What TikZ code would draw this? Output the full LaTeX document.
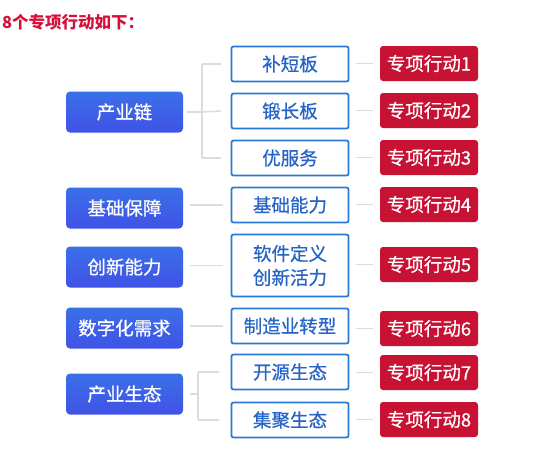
\documentclass[tikz,border=0pt]{standalone}
\usepackage{fontspec}
\setmainfont{Noto Sans CJK SC}
\newfontfamily\medcjk{Noto Sans CJK SC}[FakeBold=0.7]
\definecolor{bluetop}{RGB}{58,112,232}
\definecolor{bluebot}{RGB}{64,82,230}
\definecolor{midblue}{RGB}{40,122,216}
\definecolor{midtext}{RGB}{38,100,200}
\definecolor{actred}{RGB}{200,18,52}
\definecolor{titlered}{RGB}{214,16,58}
\definecolor{conngray}{RGB}{220,220,220}
\tikzset{
  catbox/.style={rounded corners=4pt, top color=bluetop, bottom color=bluebot, draw=none,
    minimum width=117pt, minimum height=41pt, text=white, font=\medcjk\fontsize{18.5}{20}\selectfont},
  midbox/.style={rounded corners=2pt, draw=midblue, line width=1.8pt, fill=white,
    minimum width=117pt, minimum height=35pt, text=midtext, align=center,
    font=\medcjk\fontsize{18.5}{24}\selectfont},
  actbox/.style={rounded corners=3pt, fill=actred, draw=none,
    minimum width=98pt, minimum height=35pt, text=white, font=\medcjk\fontsize{18.5}{20}\selectfont},
  conn/.style={draw=conngray, line width=1.5pt}
}
\begin{document}
\begin{tikzpicture}[x=1pt,y=-1pt]
\useasboundingbox[fill=white] (0,0) rectangle (542,450);
\node[anchor=west, inner sep=0pt, text=titlered, font=\fontsize{16.5}{18}\selectfont\bfseries] (title) at (2,22) {8个专项行动如下：};
% categories
\node[catbox] (c1) at (124.5,112) {产业链};
\node[catbox] (c2) at (124.5,208) {基础保障};
\node[catbox] (c3) at (124.5,267) {创新能力};
\node[catbox] (c4) at (124.5,328) {数字化需求};
\node[catbox] (c5) at (124.5,394) {产业生态};
% middle
\node[midbox] (m1) at (290,64) {补短板};
\node[midbox] (m2) at (290,111) {锻长板};
\node[midbox] (m3) at (290,158) {优服务};
\node[midbox] (m4) at (290,205) {基础能力};
\node[midbox, minimum height=62pt] (m5) at (290,265.5) {软件定义\\创新活力};
\node[midbox] (m6) at (290,326) {制造业转型};
\node[midbox] (m7) at (290,372) {开源生态};
\node[midbox] (m8) at (290,420) {集聚生态};
% actions
\node[actbox] (a1) at (429,63.5) {专项行动1};
\node[actbox] (a2) at (429,110.5) {专项行动2};
\node[actbox] (a3) at (429,157.5) {专项行动3};
\node[actbox] (a4) at (429,204.5) {专项行动4};
\node[actbox] (a5) at (429,264.5) {专项行动5};
\node[actbox] (a6) at (429,328.5) {专项行动6};
\node[actbox] (a7) at (429,372.5) {专项行动7};
\node[actbox] (a8) at (429,419.5) {专项行动8};
% brackets
\coordinate (j1) at (202,112);
\coordinate (j5) at (198,394);
\draw[conn] ([xshift=4pt]c1.east) -- (j1);
\draw[conn] (j1) -- ([xshift=-10pt]m2.west);
\draw[conn] (j1 |- m1.west) -- (j1 |- m3.west);
\draw[conn] (j1 |- m1.west) -- ([xshift=-10pt]m1.west);
\draw[conn] (j1 |- m3.west) -- ([xshift=-10pt]m3.west);
\draw[conn] ([xshift=7pt]c2.east |- m4.west) -- ([xshift=-8pt]m4.west);
\draw[conn] ([xshift=7pt]c3.east |- m5.west) -- ([xshift=-8pt]m5.west);
\draw[conn] ([xshift=7pt]c4.east |- m6.west) -- ([xshift=-8pt]m6.west);
\draw[conn] ([xshift=7pt]c5.east) -- (j5);
\draw[conn] (j5 |- m7.west) -- (j5 |- m8.west);
\draw[conn] (j5 |- m7.west) -- ([xshift=-12pt]m7.west);
\draw[conn] (j5 |- m8.west) -- ([xshift=-12pt]m8.west);
% middle to actions
\foreach \i in {1,...,8}{
  \draw[conn] ([xshift=7pt]m\i.east |- a\i.west) -- ([xshift=-7pt]a\i.west);
}
\end{tikzpicture}
\end{document}
